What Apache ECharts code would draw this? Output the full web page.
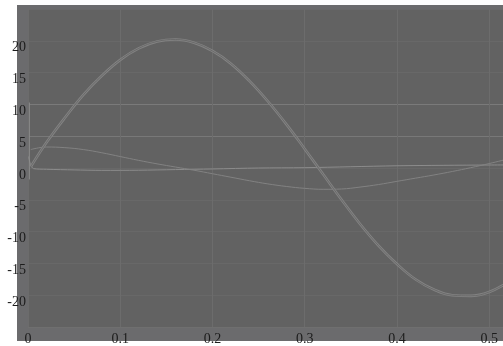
<!DOCTYPE html>
<html><head><meta charset="utf-8">
<script src="https://cdn.jsdelivr.net/npm/echarts@6/dist/echarts.min.js"></script>
<style>html,body{margin:0;padding:0;background:#fff}#c{width:503px;height:346px}</style>
</head><body><div id="c"></div>
<script>
// x positions (shared)
const xs = [0.003,0.02,0.04,0.06,0.08,0.10,0.12,0.14,0.16,0.18,0.20,0.22,0.24,0.26,0.28,0.30,0.32,0.34,0.36,0.38,0.40,0.42,0.44,0.46,0.48,0.50,0.52];
// large oscillation
const bigVals = [0.2,4.0,7.9,11.5,14.5,17.0,18.8,19.9,20.2,19.7,18.4,16.4,13.7,10.5,6.9,3.0,-1.0,-5.0,-8.8,-12.2,-15.1,-17.5,-19.1,-20.0,-20.1,-19.5,-18.0];
// medium curve
const midVals = [2.9,3.3,3.2,2.9,2.4,1.8,1.2,0.65,0.15,-0.35,-0.9,-1.45,-2.0,-2.5,-2.9,-3.2,-3.35,-3.3,-3.0,-2.6,-2.1,-1.6,-1.1,-0.55,0.05,0.7,1.4];
// near-zero curve (with initial spike)
const lowX = [0.0005,0.003,0.006,0.02,0.05,0.08,0.12,0.16,0.20,0.25,0.30,0.35,0.40,0.45,0.50,0.52];
const lowVals = [1.8,0.5,-0.1,-0.2,-0.3,-0.37,-0.35,-0.25,-0.15,0.0,0.05,0.2,0.35,0.42,0.47,0.48];
// vertical spike at start
const spikeX = [0.0015,0.0015];
const spikeVals = [-1.8,10.3];
const xTicks = [0,0.1,0.2,0.3,0.4,0.5];
const yTicks = [-20,-15,-10,-5,0,5,10,15,20];

const zip = (a,b)=>a.map((v,i)=>[v,b[i]]);
const chart = echarts.init(document.getElementById('c'));
const font = {fontFamily:'Liberation Serif', fontSize:14, color:'#1c1c1c'};
const grid = ['#6f6f6f','#686868','#686868','#686868','#686868','#686868','#787878','#7a7a7a','#686868','#686868','#6a6a6a'];
chart.setOption({
  animation:false,
  backgroundColor:'#ffffff',
  graphic:[{type:'rect',shape:{x:17,y:5,width:486,height:336},style:{fill:'#6b6b6d'},z:-10,silent:true}],
  grid:{left:28,right:0,top:9,height:318,show:true,backgroundColor:'#626262',borderWidth:0},
  xAxis:{type:'value',min:0,max:0.515,interval:0.1,
    axisLine:{show:false},axisTick:{show:false},
    splitLine:{show:true,lineStyle:{color:'#6c6c6c',width:1}},
    axisLabel:Object.assign({margin:5,showMaxLabel:false,formatter:v=>xTicks.includes(Math.round(v*10)/10)?String(Math.round(v*10)/10):''},font)},
  yAxis:{type:'value',min:-25,max:25,interval:5,
    axisLine:{show:false},axisTick:{show:false},
    splitLine:{show:true,lineStyle:{color:grid,width:1}},
    axisLabel:Object.assign({margin:2,verticalAlign:'top',showMinLabel:false,showMaxLabel:false,
      formatter:v=>yTicks.includes(v)?String(v):''},font)},
  series:[
    {type:'line',data:zip(spikeX,spikeVals),showSymbol:false,lineStyle:{color:'#8a8a8a',width:1}},
    {type:'line',data:zip(lowX,lowVals),showSymbol:false,smooth:0.3,lineStyle:{color:'#8c8c8c',width:1}},
    {type:'line',data:zip(xs,midVals),showSymbol:false,smooth:0.4,lineStyle:{color:'#828282',width:1}},
    {type:'line',data:zip(xs,bigVals),showSymbol:false,smooth:0.4,lineStyle:{color:'#838383',width:2.6}},
    {type:'line',data:zip(xs,bigVals),showSymbol:false,smooth:0.4,lineStyle:{color:'#686868',width:0.9}}
  ]
});
</script></body></html>
